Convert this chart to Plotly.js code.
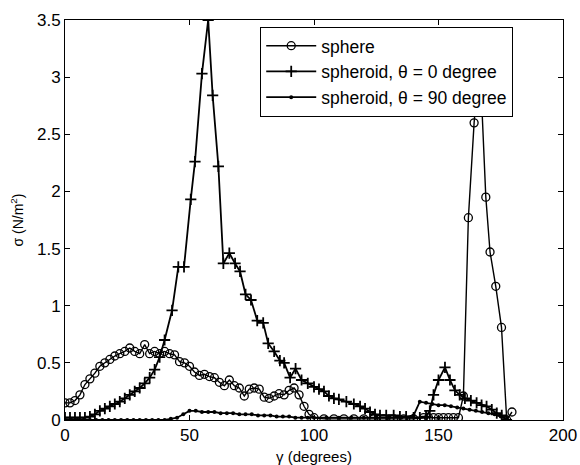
<!DOCTYPE html>
<html>
<head>
<meta charset="utf-8">
<script src="https://cdn.plot.ly/plotly-3.0.1.min.js"></script>
<style>html,body{margin:0;padding:0;background:#fff;}#chart{width:580px;height:465px;}</style>
</head>
<body>
<div id="chart"></div>
<script>
// Series: sphere (open circles)
const sphereX = [0,2,4,6,8,10,12,14,16,18,20,22,24,26,28,30,32,34,36,38,40,42,44,46,48,50,52,54,56,58,60,62,64,66,68,70,72,74,76,78,80,82,84,86,88,90,92,94,96,98,100,104,108,112,116,120,124,128,132,136,140,144,146,148,150,152,154,156,158,160,162,164.3,166.5,169,170.7,173,175.3,177.4,179.5];
const sphereY = [0.15,0.15,0.17,0.22,0.31,0.36,0.41,0.47,0.50,0.53,0.56,0.58,0.60,0.63,0.60,0.58,0.66,0.58,0.60,0.58,0.60,0.58,0.57,0.51,0.50,0.47,0.42,0.39,0.40,0.38,0.37,0.33,0.30,0.35,0.30,0.28,0.21,0.27,0.28,0.27,0.20,0.19,0.21,0.23,0.22,0.26,0.28,0.22,0.12,0.05,0.02,0.01,0.01,0.01,0.01,0.01,0.01,0.01,0.01,0.01,0.01,0.02,0.02,0.02,0.02,0.02,0.02,0.02,0.02,0.21,1.77,2.60,3.20,1.95,1.47,1.17,0.81,0.00,0.07];

// Series: spheroid, theta = 0 degree (plus markers)
const theta0X = [0,2,4,6,8,10,12,14,16,18,20,22,24,26,28,30,32,34,36,38,40,43,45.5,47.8,50.5,52.2,55,57.5,59.3,61.6,63.6,66,68.3,70.3,72.5,74.7,77.2,79.6,81.6,84,86.3,88,90.4,92.6,95,97.5,100,102,104,106,108,110,113,116,118.5,120.5,122.5,124.5,126.5,129,132,134.5,137,140,142.5,145,146.5,148,150,152.6,154.6,156.6,158.5,160.6,163,165.3,167.3,169.3,171.4,173.4,175.4,177.3];
const theta0Y = [0.02,0.02,0.02,0.02,0.02,0.03,0.05,0.08,0.10,0.12,0.14,0.16,0.19,0.22,0.25,0.28,0.32,0.37,0.44,0.55,0.70,0.96,1.34,1.34,1.93,2.26,3.03,3.50,2.84,2.22,1.37,1.46,1.37,1.30,1.10,1.05,0.87,0.85,0.67,0.60,0.52,0.50,0.37,0.45,0.35,0.32,0.29,0.27,0.25,0.21,0.19,0.18,0.16,0.14,0.12,0.10,0.07,0.05,0.04,0.04,0.04,0.03,0.03,0.02,0.02,0.03,0.08,0.22,0.35,0.46,0.35,0.26,0.22,0.19,0.17,0.15,0.13,0.12,0.09,0.06,0.04,0.00];

// Series: spheroid, theta = 90 degree (dot markers)
const theta90X = [0,2.5,5,7.5,10,12.5,15,17.5,20,22.5,25,27.5,30,32.5,35,37.5,40,42.5,45,47.5,50,52.5,55,57.5,60,62.5,65,67.5,70,72.5,75,77.5,80,82.5,85,87.5,90,92.5,95,97.5,100,105,110,115,120,125,130,135,140,142.5,145,147.5,150,152.5,155,157.5,160,162.5,165,167.5,170,172.5,175,177.5];
const theta90Y = [0,0,0,0,0,0,0,0,0,0,0,0,0,0,0,0,0,0.01,0.02,0.05,0.08,0.08,0.07,0.07,0.07,0.06,0.06,0.06,0.05,0.05,0.05,0.04,0.04,0.04,0.03,0.03,0.03,0.02,0.02,0.02,0.02,0.02,0.02,0.02,0.02,0.02,0.02,0.02,0.04,0.16,0.15,0.14,0.13,0.13,0.12,0.11,0.10,0.09,0.08,0.07,0.06,0.05,0.03,0.01];

const seriesNames = ['sphere', 'spheroid, \u03b8 = 0 degree', 'spheroid, \u03b8 = 90 degree'];
const xTicks = [0, 50, 100, 150, 200];
const yTicks = [0, 0.5, 1, 1.5, 2, 2.5, 3, 3.5];
const yTickText = ['0', '0.5', '1', '1.5', '2', '2.5', '3', '3.5'];

const FONT = 'Liberation Sans, Arial, Helvetica, sans-serif';

const traces = [
  {
    x: sphereX, y: sphereY, name: seriesNames[0], mode: 'lines+markers',
    line: {color: '#000', width: 1.4},
    marker: {symbol: 'circle-open', size: 8, color: '#000', line: {color: '#000', width: 1.3}}
  },
  {
    x: theta0X, y: theta0Y, name: seriesNames[1], mode: 'lines+markers',
    line: {color: '#000', width: 1.8},
    marker: {symbol: 'cross-thin', size: 8, color: '#000', line: {color: '#000', width: 1.8}}
  },
  {
    x: theta90X, y: theta90Y, name: seriesNames[2], mode: 'lines+markers',
    line: {color: '#000', width: 1.8},
    marker: {symbol: 'circle', size: 4, color: '#000'}
  }
];

const layout = {
  width: 580, height: 465,
  margin: {l: 65, r: 17, t: 20, b: 45},
  paper_bgcolor: '#fff', plot_bgcolor: '#fff',
  font: {family: FONT, color: '#000', size: 15},
  showlegend: true,
  legend: {
    x: 0.392, y: 0.983, xanchor: 'left', yanchor: 'top',
    bgcolor: '#fff', bordercolor: '#000', borderwidth: 1,
    font: {family: FONT, size: 17.5, color: '#000'},
    itemwidth: 50,
    tracegroupgap: 0
  },
  xaxis: {
    range: [0, 200], tickvals: xTicks, ticktext: xTicks.map(String),
    ticks: 'inside', ticklen: 5, tickcolor: '#000', tickwidth: 1,
    showline: true, linecolor: '#000', linewidth: 1, mirror: 'ticks',
    showgrid: false, zeroline: false,
    tickfont: {family: FONT, size: 17, color: '#000'},
    title: {text: '\u03b3 (degrees)', font: {family: FONT, size: 15, color: '#000'}, standoff: 8}
  },
  yaxis: {
    range: [0, 3.5], tickvals: yTicks, ticktext: yTickText,
    ticks: 'inside', ticklen: 5, tickcolor: '#000', tickwidth: 1,
    showline: true, linecolor: '#000', linewidth: 1, mirror: 'ticks',
    showgrid: false, zeroline: false,
    tickfont: {family: FONT, size: 17, color: '#000'},
    title: {text: '\u03c3 (N/m<sup>2</sup>)', font: {family: FONT, size: 14, color: '#000'}, standoff: 10}
  }
};

Plotly.newPlot('chart', traces, layout, {displayModeBar: false, staticPlot: true});
</script>
</body>
</html>
